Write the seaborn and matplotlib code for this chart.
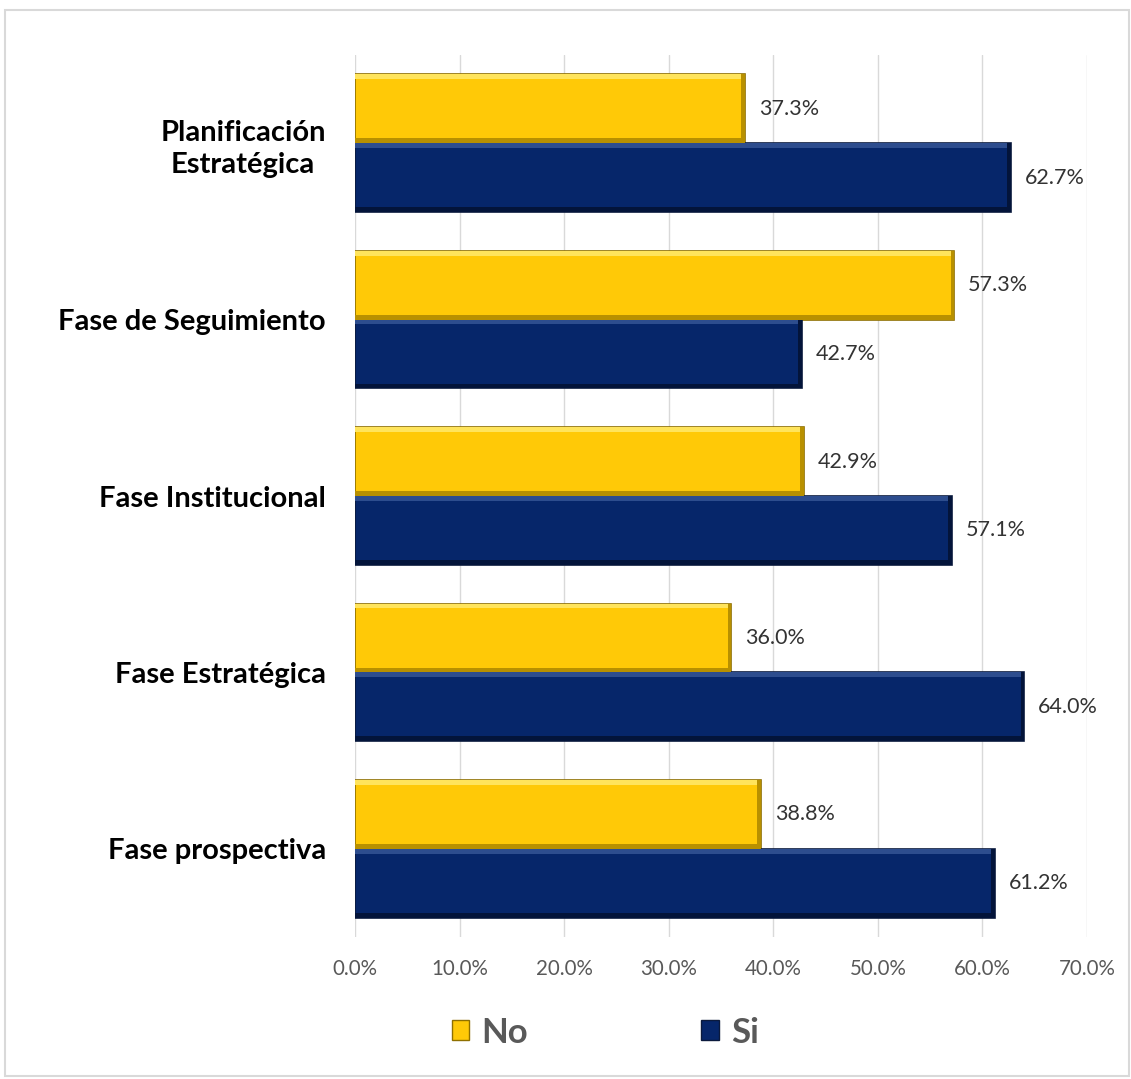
import pandas as pd
import matplotlib.pyplot as plt
import seaborn as sns
from matplotlib.patches import Rectangle, Patch

# ==============================
# DATA
# ==============================
categories = ["Planificación\nEstratégica", "Fase de Seguimiento",
              "Fase Institucional", "Fase Estratégica", "Fase prospectiva"]
no_values = [37.3, 57.3, 42.9, 36.0, 38.8]
si_values = [62.7, 42.7, 57.1, 64.0, 61.2]
series = ["No", "Si"]
x_ticks = [0, 10, 20, 30, 40, 50, 60, 70]

colors = {"No": "#FFC907", "Si": "#06266A"}
edges = {"No": "#8F7000", "Si": "#0B1A3D"}
lights = {"No": "#FFE45C", "Si": "#2D4D8E"}
shades = {"No": "#B89000", "Si": "#03143A"}

df = pd.DataFrame({
    "Fase": categories * 2,
    "Respuesta": ["No"] * len(categories) + ["Si"] * len(categories),
    "Valor": no_values + si_values,
})

# ==============================
# PLOT
# ==============================
sns.set_style("white")
plt.rcParams["font.family"] = ["Lato", "DejaVu Sans"]

fig = plt.figure(figsize=(11.31, 10.79), dpi=100)
ax = fig.add_axes([0.3139, 0.1316, 0.6472, 0.8174])

sns.barplot(data=df, y="Fase", x="Valor", hue="Respuesta", hue_order=series,
            palette=colors, orient="h", width=0.78, ax=ax, legend=False,
            errorbar=None, saturation=1)

# bevel look + value labels
for cont, name in zip(ax.containers, series):
    for bar in cont:
        bar.set_edgecolor(edges[name])
        bar.set_linewidth(1.2)
        x0, y0 = bar.get_x(), bar.get_y()
        w, h = bar.get_width(), bar.get_height()
        bh = h * 0.07   # bevel thickness (vertical)
        bw = 0.35       # bevel thickness (horizontal, in %)
        ax.add_patch(Rectangle((x0, y0), w, bh, facecolor=lights[name],
                               edgecolor="none", zorder=bar.get_zorder() + 0.1))
        ax.add_patch(Rectangle((x0, y0 + h - bh), w, bh, facecolor=shades[name],
                               edgecolor="none", zorder=bar.get_zorder() + 0.1))
        ax.add_patch(Rectangle((x0 + w - bw, y0), bw, h, facecolor=shades[name],
                               edgecolor="none", zorder=bar.get_zorder() + 0.1))
    ax.bar_label(cont, labels=[f"{v:.1f}%" for v in cont.datavalues],
                 padding=10, fontsize=15.5, color="#333333")

ax.set_xlim(0, 70)
ax.set_xticks(x_ticks)
ax.set_xticklabels([f"{t:.1f}%" for t in x_ticks], fontsize=14.8, color="#595959")
ax.tick_params(axis="x", length=0, pad=16)
ax.tick_params(axis="y", length=0, pad=21)
for lbl in ax.get_yticklabels():
    lbl.set_fontsize(21)
    lbl.set_fontweight("bold")
    lbl.set_color("black")
    lbl.set_multialignment("center")
    lbl.set_linespacing(1.3)

ax.grid(axis="x", color="#D9D9D9", linewidth=1)
ax.set_axisbelow(True)
for s in ax.spines.values():
    s.set_visible(False)
ax.set_xlabel("")
ax.set_ylabel("")

# legend
handles = [Patch(facecolor=colors[n], edgecolor=edges[n], label=n) for n in series]
fig.legend(handles=handles, loc="center", bbox_to_anchor=(0.535, 0.043), ncol=2,
           frameon=False, handlelength=0.5, handleheight=0.5, handletextpad=0.35,
           columnspacing=5.0, prop={"size": 25, "weight": "bold"}, labelcolor="#595959")

# chart border
fig.patches.append(Rectangle((0.004, 0.003), 0.994, 0.988, transform=fig.transFigure,
                             fill=False, edgecolor="#D9D9D9", linewidth=1.5))

plt.savefig("out.png", dpi=100)
plt.close()
